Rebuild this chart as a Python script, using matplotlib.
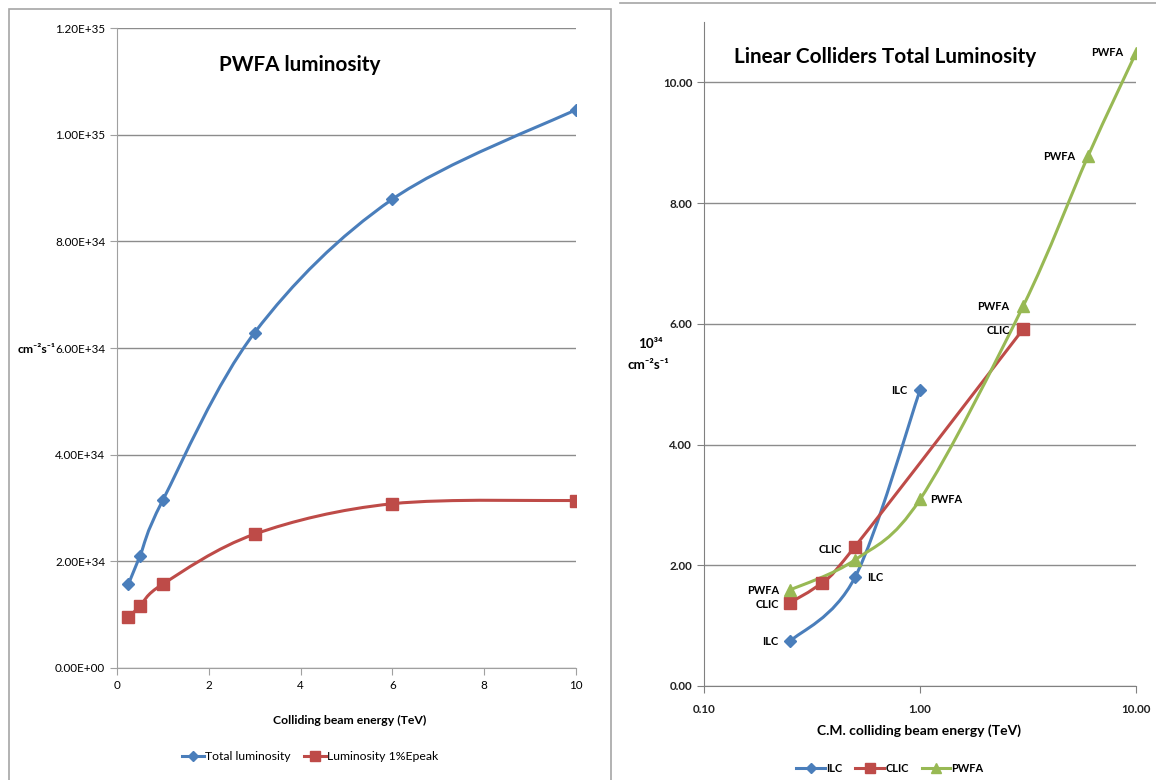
import numpy as np
import matplotlib
matplotlib.use('Agg')
import matplotlib.pyplot as plt
from matplotlib import font_manager
from matplotlib.path import Path
from matplotlib.patches import PathPatch, Rectangle
from matplotlib.lines import Line2D

# left chart: PWFA luminosity
energy = [0.25, 0.5, 1, 3, 6, 10]
total_lumi = [1.575e34, 2.10e34, 3.15e34, 6.29e34, 8.79e34, 1.047e35]
peak_lumi = [0.95e34, 1.16e34, 1.575e34, 2.51e34, 3.08e34, 3.14e34]
left_yticks = [0, 2e34, 4e34, 6e34, 8e34, 1e35, 1.2e35]
left_yticklabels = ['0.00E+00', '2.00E+34', '4.00E+34', '6.00E+34',
                    '8.00E+34', '1.00E+35', '1.20E+35']

# right chart: linear colliders (10^34 cm^-2 s^-1)
ilc_e = [0.25, 0.5, 1.0]
ilc_l = [0.74, 1.80, 4.90]
clic_e = [0.25, 0.35, 0.5, 3.0]
clic_l = [1.38, 1.71, 2.31, 5.91]
pwfa_e = [0.25, 0.5, 1.0, 3.0, 6.0, 10.0]
pwfa_l = [1.59, 2.09, 3.09, 6.29, 8.78, 10.49]

BLUE = '#4a7ebb'
RED = '#be4b48'
GREEN = '#98b954'
GRID = '#8c8c8c'


def has_font(name):
    try:
        font_manager.findfont(name, fallback_to_default=False)
        return True
    except Exception:
        return False


# narrow font stands in for Calibri; fall back if it's missing
NARROW = has_font('Liberation Sans Narrow')
ff = ['Liberation Sans Narrow', 'DejaVu Sans'] if NARROW else ['Lato', 'DejaVu Sans']
k = 1.0 if NARROW else 0.88


def smooth_path(x, y, logx=False):
    """Excel-like smoothed line as a bezier path through the points"""
    xs = np.log10(x) if logx else np.asarray(x, float)
    ys = np.asarray(y, float)
    n = len(xs)
    pts = np.column_stack([xs, ys])
    verts = [pts[0]]
    codes = [Path.MOVETO]
    for i in range(n - 1):
        p0 = pts[max(i - 1, 0)]
        p1 = pts[i]
        p2 = pts[i + 1]
        p3 = pts[min(i + 2, n - 1)]
        c1 = p1 + (p2 - p0) / 6.0
        c2 = p2 - (p3 - p1) / 6.0
        verts += [c1, c2, p2]
        codes += [Path.CURVE4] * 3
    verts = np.array(verts)
    if logx:
        verts[:, 0] = 10 ** verts[:, 0]
    return Path(verts, codes)


def draw_series(ax, x, y, color, marker, ms, logx=False):
    ax.add_patch(PathPatch(smooth_path(x, y, logx), facecolor='none',
                           edgecolor=color, lw=2.2, zorder=3))
    ax.plot(x, y, ls='none', marker=marker, ms=ms, color=color, zorder=4)


fig = plt.figure(figsize=(11.56, 7.8), dpi=100)

# frame around left chart and line above right one
fig.add_artist(Rectangle((9 / 1156, -0.01), (611 - 9) / 1156, 1 - 9 / 780 + 0.01,
                         transform=fig.transFigure, fill=False,
                         edgecolor='#a6a6a6', lw=1.2))
fig.add_artist(Line2D([620 / 1156, 1], [1 - 3 / 780, 1 - 3 / 780],
                      transform=fig.transFigure, color='#a6a6a6', lw=1.2))

# ---------- left chart ----------
ax1 = fig.add_axes([117 / 1156, 112 / 780, 459 / 1156, 640 / 780])
draw_series(ax1, energy, total_lumi, BLUE, 'D', 6)
draw_series(ax1, energy, peak_lumi, RED, 's', 8)
ax1.set_xlim(0, 10)
ax1.set_ylim(0, 1.2e35)
ax1.set_xticks([0, 2, 4, 6, 8, 10])
ax1.set_yticks(left_yticks)
ax1.set_yticklabels(left_yticklabels)
ax1.yaxis.grid(True, color=GRID, lw=1)
ax1.set_axisbelow(True)
for s in ['top', 'right']:
    ax1.spines[s].set_visible(False)
for s in ['left', 'bottom']:
    ax1.spines[s].set_color('#a0a0a0')
ax1.tick_params(colors='#a0a0a0', labelcolor='black', length=5, labelsize=9.5 * k)
for lab in ax1.get_xticklabels() + ax1.get_yticklabels():
    lab.set_family(ff)
ax1.text(0.399, 0.942, 'PWFA luminosity', transform=ax1.transAxes, ha='center',
         va='center', fontsize=17 * k, fontweight='bold', family=ff)
fig.text(37 / 1156, 1 - 350 / 780, 'cm⁻²s⁻¹', ha='center',
         va='center', fontsize=10 * k, fontweight='bold', family=ff)
fig.text(350 / 1156, 1 - 720 / 780, 'Colliding beam energy (TeV)', ha='center',
         va='center', fontsize=10 * k, fontweight='bold', family=ff)
h1 = [Line2D([], [], color=BLUE, lw=2.2, marker='D', ms=5),
      Line2D([], [], color=RED, lw=2.2, marker='s', ms=7)]
fig.legend(h1, ['Total luminosity', 'Luminosity 1%Epeak'], loc='center',
           bbox_to_anchor=(310 / 1156, 1 - 757 / 780), ncol=2, frameon=False,
           prop={'family': ff, 'size': 10 * k}, handlelength=1.8,
           handletextpad=0.1, columnspacing=1.1)

# ---------- right chart ----------
ax2 = fig.add_axes([704 / 1156, 94 / 780, 432 / 1156, 664 / 780])
draw_series(ax2, ilc_e, ilc_l, BLUE, 'D', 6, logx=True)
draw_series(ax2, clic_e, clic_l, RED, 's', 8, logx=True)
draw_series(ax2, pwfa_e, pwfa_l, GREEN, '^', 8, logx=True)
ax2.set_xscale('log')
ax2.set_xlim(0.1, 10)
ax2.set_ylim(0, 11)
ax2.set_xticks([0.1, 1, 10])
ax2.set_xticklabels(['0.10', '1.00', '10.00'])
ax2.xaxis.set_minor_locator(matplotlib.ticker.NullLocator())
ax2.set_yticks([0, 2, 4, 6, 8, 10])
ax2.set_yticklabels(['0.00', '2.00', '4.00', '6.00', '8.00', '10.00'])
ax2.yaxis.grid(True, color=GRID, lw=1)
ax2.set_axisbelow(True)
for s in ['top', 'right']:
    ax2.spines[s].set_visible(False)
for s in ['left', 'bottom']:
    ax2.spines[s].set_color('#808080')
ax2.tick_params(colors='#808080', labelcolor='#222222', length=5, labelsize=9.5 * k)
ax2.tick_params(axis='x', pad=8)
for lab in ax2.get_xticklabels() + ax2.get_yticklabels():
    lab.set_family(ff)
    lab.set_fontweight('bold')

labels = [
    (ilc_e[0], ilc_l[0], 'ILC', -8, 0, 'right'),
    (ilc_e[1], ilc_l[1], 'ILC', 9, 0, 'left'),
    (ilc_e[2], ilc_l[2], 'ILC', -9, 0, 'right'),
    (clic_e[0], clic_l[0], 'CLIC', -8, -1, 'right'),
    (clic_e[2], clic_l[2], 'CLIC', -9, -2, 'right'),
    (clic_e[3], clic_l[3], 'CLIC', -9, -1, 'right'),
    (pwfa_e[0], pwfa_l[0], 'PWFA', -8, 0, 'right'),
    (pwfa_e[2], pwfa_l[2], 'PWFA', 7, 0, 'left'),
    (pwfa_e[3], pwfa_l[3], 'PWFA', -10, 0, 'right'),
    (pwfa_e[4], pwfa_l[4], 'PWFA', -9, 0, 'right'),
    (pwfa_e[5], pwfa_l[5], 'PWFA', -9, 0, 'right'),
]
for x, y, t, dx, dy, ha in labels:
    ax2.annotate(t, (x, y), xytext=(dx, dy), textcoords='offset points',
                 ha=ha, va='center', fontsize=9 * k, fontweight='bold',
                 family=ff, color='black', zorder=5)

ax2.text(0.07, 0.947, 'Linear Colliders Total Luminosity', transform=ax2.transAxes,
         ha='left', va='center', fontsize=17 * k, fontweight='bold', family=ff)
fig.text(650 / 1156, 1 - 344 / 780, '10³⁴', ha='center', va='center',
         fontsize=11 * k, fontweight='bold', family=ff)
fig.text(648 / 1156, 1 - 365 / 780, 'cm⁻²s⁻¹', ha='center',
         va='center', fontsize=11 * k, fontweight='bold', family=ff)
fig.text(919 / 1156, 1 - 731 / 780, 'C.M. colliding beam energy (TeV)', ha='center',
         va='center', fontsize=11.4 * k, fontweight='bold', family=ff)
h2 = [Line2D([], [], color=BLUE, lw=2.2, marker='D', ms=5),
      Line2D([], [], color=RED, lw=2.2, marker='s', ms=7),
      Line2D([], [], color=GREEN, lw=2.2, marker='^', ms=7)]
fig.legend(h2, ['ILC', 'CLIC', 'PWFA'], loc='center',
           bbox_to_anchor=(890 / 1156, 1 - 768 / 780), ncol=3, frameon=False,
           prop={'family': ff, 'size': 9 * k, 'weight': 'bold'}, handlelength=2.6,
           handletextpad=0.1, columnspacing=1.2)

fig.savefig('out.png', dpi=100)
